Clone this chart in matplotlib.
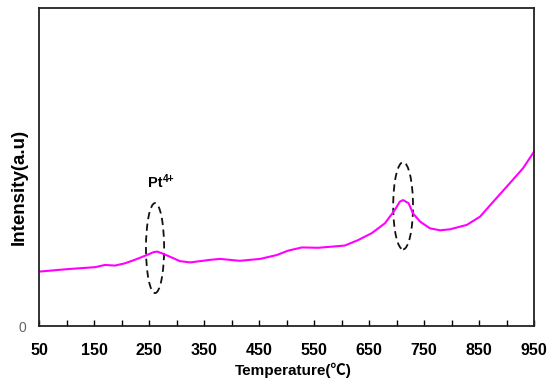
import matplotlib
matplotlib.use("Agg")
import matplotlib.pyplot as plt
from matplotlib.patches import Ellipse

# TPR profile (arbitrary intensity units)
temperature = [50, 103, 152, 170, 188, 206, 224, 243, 258, 265, 273, 288, 306, 325, 361,
               379, 415, 452, 482, 503, 528, 558, 606, 630, 655, 679, 697, 706, 712,
               722, 730, 743, 761, 779, 797, 828, 852, 876, 906, 930, 950]
intensity = [0.171, 0.179, 0.185, 0.192, 0.190, 0.197, 0.208, 0.221, 0.232, 0.234, 0.229,
             0.218, 0.204, 0.200, 0.208, 0.211, 0.205, 0.211, 0.223, 0.237, 0.247,
             0.246, 0.253, 0.270, 0.292, 0.323, 0.365, 0.391, 0.396, 0.386, 0.354,
             0.328, 0.307, 0.301, 0.304, 0.318, 0.344, 0.391, 0.449, 0.496, 0.548]

xtick_values = [50, 150, 250, 350, 450, 550, 650, 750, 850, 950]
minor_ticks = [100, 200, 300, 400, 500, 600, 700, 800, 900]

# peak markers: (center temperature, center intensity, width, height)
peak_marks = [(261, 0.245, 33, 0.283), (712, 0.378, 36, 0.274)]

sans = ['Liberation Sans', 'DejaVu Sans']
plt.rcParams['font.family'] = sans

fig = plt.figure(figsize=(5.54, 3.84), dpi=100)
ax = fig.add_axes([39 / 554, 1 - 326 / 384, (534 - 39) / 554, (326 - 8) / 384])

ax.plot(temperature, intensity, color='#ff00ff', lw=1.5, solid_joinstyle='round')

for cx, cy, w, h in peak_marks:
    ax.add_patch(Ellipse((cx, cy), w, h, fill=False, ec='#111111', lw=1.3,
                         ls=(0, (4, 2.5))))

# Pt4+ label with a small raised charge
ax.text(249, 0.438, 'Pt', ha='left', va='baseline', fontsize=10.5, fontweight='bold')
ax.text(276, 0.454, '4+', ha='left', va='baseline', fontsize=7.3, fontweight='bold')

ax.set_xlim(50, 950)
ax.set_ylim(0, 1)
ax.set_xticks(xtick_values)
ax.set_xticks(minor_ticks, minor=True)
ax.set_xticklabels([str(v) for v in xtick_values], fontsize=11.5, fontweight='bold')
ax.tick_params(axis='x', which='both', direction='in', length=4, width=1, pad=12)
ax.set_yticks([0])
ax.set_yticklabels(['0'], color='#666666', fontsize=10)
ax.tick_params(axis='y', length=0, pad=9)

for s in ax.spines.values():
    s.set_linewidth(1.3)
    s.set_color('#222222')

fig.text(293 / 554, 1 - 370 / 384, 'Temperature(℃)', ha='center', va='center',
         fontsize=11, fontweight='bold',
         family=['Liberation Sans', 'Noto Sans CJK SC'])
fig.text(19 / 554, 1 - 187 / 384, 'Intensity(a.u)', ha='center', va='center',
         rotation=90, fontsize=13.5, fontweight='bold')

fig.savefig('out.png', dpi=100)
